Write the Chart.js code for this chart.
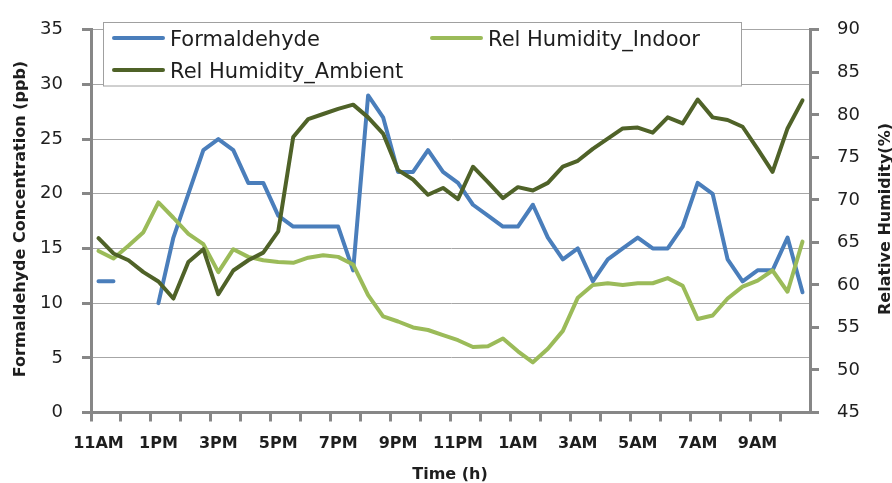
<!DOCTYPE html>
<html>
<head>
<meta charset="utf-8">
<script src="https://cdn.jsdelivr.net/npm/chart.js@4"></script>
<style>
  html, body { margin: 0; padding: 0; background: #fff; }
  canvas { display: block; }
</style>
</head>
<body>
<canvas id="chart" width="892" height="483"></canvas>
<script>
// ─── Data (half-hourly, 11:00 AM to 10:30 AM next day) ─────
const times = [
  '11:00','11:30','12:00','12:30','13:00','13:30','14:00','14:30',
  '15:00','15:30','16:00','16:30','17:00','17:30','18:00','18:30',
  '19:00','19:30','20:00','20:30','21:00','21:30','22:00','22:30',
  '23:00','23:30','00:00','00:30','01:00','01:30','02:00','02:30',
  '03:00','03:30','04:00','04:30','05:00','05:30','06:00','06:30',
  '07:00','07:30','08:00','08:30','09:00','09:30','10:00','10:30'
];
const tickLabels = ['11AM','1PM','3PM','5PM','7PM','9PM','11PM','1AM','3AM','5AM','7AM','9AM'];

const formaldehyde = [
  12, 12, null, null, 10, 16, 20, 24, 25, 24, 21, 21, 18, 17, 17, 17,
  17, 13, 29, 27, 22, 22, 24, 22, 21, 19, 18, 17, 17, 19, 16, 14,
  15, 12, 14, 15, 16, 15, 15, 17, 21, 20, 14, 12, 13, 13, 16, 11
];
const rhIndoor = [
  64.0, 63.1, 64.6, 66.2, 69.7, 67.9, 66.0, 64.8, 61.5, 64.2, 63.3, 62.9, 62.7, 62.6, 63.2, 63.5,
  63.3, 62.4, 58.8, 56.3, 55.7, 55.0, 54.7, 54.1, 53.5, 52.7, 52.8, 53.7, 52.2, 50.9, 52.5, 54.6,
  58.5, 60.0, 60.2, 60.0, 60.2, 60.2, 60.8, 59.9, 56.0, 56.4, 58.4, 59.8, 60.5, 61.7, 59.2, 65.1
];
const rhAmbient = [
  65.5, 63.7, 62.9, 61.5, 60.4, 58.4, 62.7, 64.2, 58.9, 61.7, 62.9, 63.8, 66.3, 77.4, 79.5, 80.1,
  80.7, 81.2, 79.7, 77.8, 73.5, 72.4, 70.6, 71.4, 70.1, 73.9, 72.1, 70.2, 71.5, 71.1, 72.0, 73.9,
  74.6, 76.0, 77.2, 78.4, 78.5, 77.9, 79.7, 79.0, 81.8, 79.7, 79.4, 78.6, 76.0, 73.3, 78.4, 81.7
];

const BLUE = '#4a7ebb';
const LIGHT_GREEN = '#9bbb59';
const DARK_GREEN = '#4f6228';
const AXIS = '#878787';
const GRID = '#a6a6a6';
const TEXT = '#1e1e1e';

// ─── Titles + legend drawn on top of the chart ────────────
const overlay = {
  id: 'overlay',
  afterDraw(chart) {
    const ctx = chart.ctx;
    ctx.save();

    // legend box
    ctx.fillStyle = '#fff';
    ctx.fillRect(103.5, 22.5, 638, 63.5);
    ctx.strokeStyle = '#a0a0a0';
    ctx.lineWidth = 1;
    ctx.strokeRect(103.5, 22.5, 638, 63.5);

    const items = [
      { text: 'Formaldehyde', color: BLUE, x: 112, y: 38 },
      { text: 'Rel Humidity_Indoor', color: LIGHT_GREEN, x: 430, y: 38 },
      { text: 'Rel Humidity_Ambient', color: DARK_GREEN, x: 112, y: 70 },
    ];
    ctx.font = '21px "DejaVu Sans"';
    ctx.textBaseline = 'alphabetic';
    ctx.textAlign = 'left';
    items.forEach(it => {
      ctx.strokeStyle = it.color;
      ctx.lineWidth = 4;
      ctx.lineCap = 'round';
      ctx.beginPath();
      ctx.moveTo(it.x + 2, it.y);
      ctx.lineTo(it.x + 51, it.y);
      ctx.stroke();
      ctx.fillStyle = TEXT;
      ctx.fillText(it.text, it.x + 58, it.y + 7.5);
    });

    // axis titles
    ctx.font = 'bold 16px "DejaVu Sans"';
    ctx.fillStyle = TEXT;
    ctx.textAlign = 'center';
    ctx.fillText('Time (h)', 450, 479);

    ctx.save();
    ctx.translate(25, 219);
    ctx.rotate(-Math.PI / 2);
    ctx.fillText('Formaldehyde Concentration (ppb)', 0, 0);
    ctx.restore();

    ctx.save();
    ctx.translate(890, 219);
    ctx.rotate(-Math.PI / 2);
    ctx.fillText('Relative Humidity(%)', 0, 0);
    ctx.restore();

    ctx.restore();
  }
};

Chart.defaults.font.family = '"DejaVu Sans"';
Chart.defaults.color = TEXT;

new Chart(document.getElementById('chart'), {
  type: 'line',
  data: {
    labels: times,
    datasets: [
      { label: 'Formaldehyde', data: formaldehyde, yAxisID: 'y', borderColor: BLUE, order: 3 },
      { label: 'Rel Humidity_Indoor', data: rhIndoor, yAxisID: 'y2', borderColor: LIGHT_GREEN, order: 2 },
      { label: 'Rel Humidity_Ambient', data: rhAmbient, yAxisID: 'y2', borderColor: DARK_GREEN, order: 1 },
    ].map(d => Object.assign(d, {
      borderWidth: 4,
      pointRadius: 0,
      tension: 0,
      spanGaps: false,
      fill: false,
      borderJoinStyle: 'round',
      borderCapStyle: 'round',
    })),
  },
  options: {
    responsive: false,
    animation: false,
    layout: { padding: { top: 25, left: 0, right: 0, bottom: 0 } },
    plugins: { legend: { display: false }, tooltip: { enabled: false } },
    scales: {
      x: {
        type: 'category',
        offset: true,
        afterFit: s => { s.height = 70.5; },
        grid: {
          offset: true,
          drawOnChartArea: false,
          tickLength: 9,
          lineWidth: 3,
          color: c => (c.index % 2 === 0 ? AXIS : 'transparent'),
        },
        border: { color: AXIS, width: 3 },
        ticks: {
          autoSkip: false,
          maxRotation: 0,
          padding: 13,
          font: { size: 16, weight: 'bold' },
          callback: (v, i) => (i % 4 === 0 ? tickLabels[i / 4] : ''),
        },
      },
      y: {
        position: 'left',
        min: 0, max: 35,
        afterFit: s => { s.width = 91; },
        grid: { color: GRID, lineWidth: 1, tickLength: 9, tickColor: AXIS, tickWidth: 3 },
        border: { color: AXIS, width: 3 },
        ticks: { stepSize: 5, padding: 19, font: { size: 18 } },
      },
      y2: {
        position: 'right',
        min: 45, max: 90,
        afterFit: s => { s.width = 82; },
        grid: { drawOnChartArea: false, tickLength: 9, color: AXIS, lineWidth: 3 },
        border: { color: AXIS, width: 3 },
        ticks: { stepSize: 5, padding: 18, font: { size: 18 } },
      },
    },
  },
  plugins: [overlay],
});
</script>
</body>
</html>
